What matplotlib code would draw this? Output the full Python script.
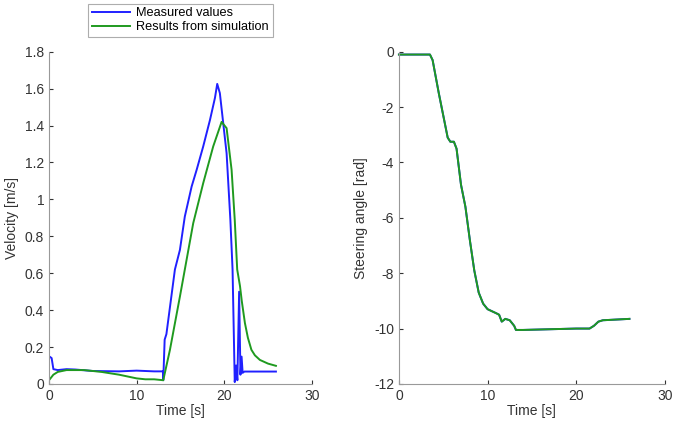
import matplotlib.pyplot as plt

plt.rcParams['font.family'] = ['Liberation Sans', 'DejaVu Sans']
plt.rcParams['axes.unicode_minus'] = False

# Velocity test run: measured vs simulated
t_meas = [0, 0.3, 0.5, 1, 2, 3, 5, 8, 9, 10, 12, 13, 13.04, 13.2, 13.4, 14.37, 14.94,
          15.5, 16.28, 16.85, 17.6, 18.37, 18.94, 19.2, 19.5, 20.27, 20.7, 20.95, 21.2,
          21.35, 21.5, 21.7, 21.85, 21.98, 22.1, 22.3, 25.9]
v_meas = [0.15, 0.14, 0.08, 0.075, 0.08, 0.078, 0.07, 0.068, 0.07, 0.072, 0.068, 0.068,
          0.02, 0.24, 0.27, 0.62, 0.726, 0.907, 1.07, 1.16, 1.287, 1.43, 1.55, 1.626,
          1.576, 1.25, 0.889, 0.62, 0.01, 0.1, 0.02, 0.5, 0.05, 0.148, 0.06, 0.067, 0.067]

t_sim = [0, 0.5, 1, 2, 4, 6, 8, 10, 11, 12, 13.04, 13.8, 14.94, 16.46, 17.6, 18.74, 19.7,
         20.27, 20.84, 21.2, 21.48, 21.8, 22.0, 22.36, 22.7, 23.1, 23.5, 24.07, 25.0, 25.9]
v_sim = [0.02, 0.05, 0.065, 0.075, 0.075, 0.065, 0.05, 0.03, 0.025, 0.025, 0.02, 0.184,
         0.473, 0.871, 1.088, 1.287, 1.42, 1.386, 1.16, 0.889, 0.62, 0.53, 0.45, 0.33,
         0.25, 0.185, 0.155, 0.13, 0.11, 0.098]

# Steering angle over the same run
t_steer = [0, 3.5, 3.8, 4.5, 5, 5.5, 5.8, 6.2, 6.5, 7, 7.5, 8, 8.5, 9, 9.5, 10, 11, 11.3,
           11.6, 12, 12.5, 13, 13.2, 14, 20, 21, 21.5, 22, 22.5, 23, 26]
angle = [-0.1, -0.1, -0.3, -1.5, -2.3, -3.1, -3.25, -3.25, -3.5, -4.8, -5.6, -6.8, -7.9,
         -8.7, -9.1, -9.3, -9.45, -9.5, -9.75, -9.65, -9.7, -9.9, -10.05, -10.05, -10.0,
         -10.0, -10.0, -9.9, -9.75, -9.7, -9.65]

blue = '#2020ff'
green = '#1f9a1f'

fig = plt.figure(figsize=(6.75, 4.28), dpi=100)
ax1 = fig.add_axes([0.0726, 0.103, 0.3894, 0.776])
ax2 = fig.add_axes([0.591, 0.103, 0.394, 0.776])


def style(ax):
    for s in ['top', 'right']:
        ax.spines[s].set_visible(False)
    for s in ['left', 'bottom']:
        ax.spines[s].set_color('#999999')
    ax.tick_params(colors='#333333', labelsize=10, direction='in', length=3,
                   labelcolor='#333333')


ax1.plot(t_meas, v_meas, color=blue, lw=1.4, label='Measured values')
ax1.plot(t_sim, v_sim, color=green, lw=1.4, label='Results from simulation')
ax1.set_xlim(0, 30)
ax1.set_ylim(0, 1.8)
ax1.set_xticks([0, 10, 20, 30])
ax1.set_yticks([0, 0.2, 0.4, 0.6, 0.8, 1, 1.2, 1.4, 1.6, 1.8])
ax1.set_yticklabels(['0', '0.2', '0.4', '0.6', '0.8', '1', '1.2', '1.4', '1.6', '1.8'])
ax1.set_xlabel('Time [s]', fontsize=10, color='#333333', labelpad=1)
ax1.set_ylabel('Velocity [m/s]', fontsize=10, color='#333333', labelpad=4)
style(ax1)
leg = ax1.legend(loc='lower center', bbox_to_anchor=(0.5, 1.025), fontsize=9.2,
                 frameon=True, fancybox=False, borderpad=0.3, handlelength=3,
                 labelspacing=0.15, handletextpad=0.5)
leg.get_frame().set_edgecolor('#999999')
leg.get_frame().set_linewidth(0.8)

ax2.plot(t_steer, angle, color=blue, lw=1.4, clip_on=False)
ax2.plot(t_steer, angle, color=green, lw=1.4, clip_on=False)
ax2.set_xlim(0, 30)
ax2.set_ylim(-12, 0)
ax2.set_xticks([0, 10, 20, 30])
ax2.set_yticks([0, -2, -4, -6, -8, -10, -12])
ax2.set_xlabel('Time [s]', fontsize=10, color='#333333', labelpad=1)
ax2.set_ylabel('Steering angle [rad]', fontsize=10, color='#333333', labelpad=4)
style(ax2)

fig.savefig('out.png', dpi=100)
